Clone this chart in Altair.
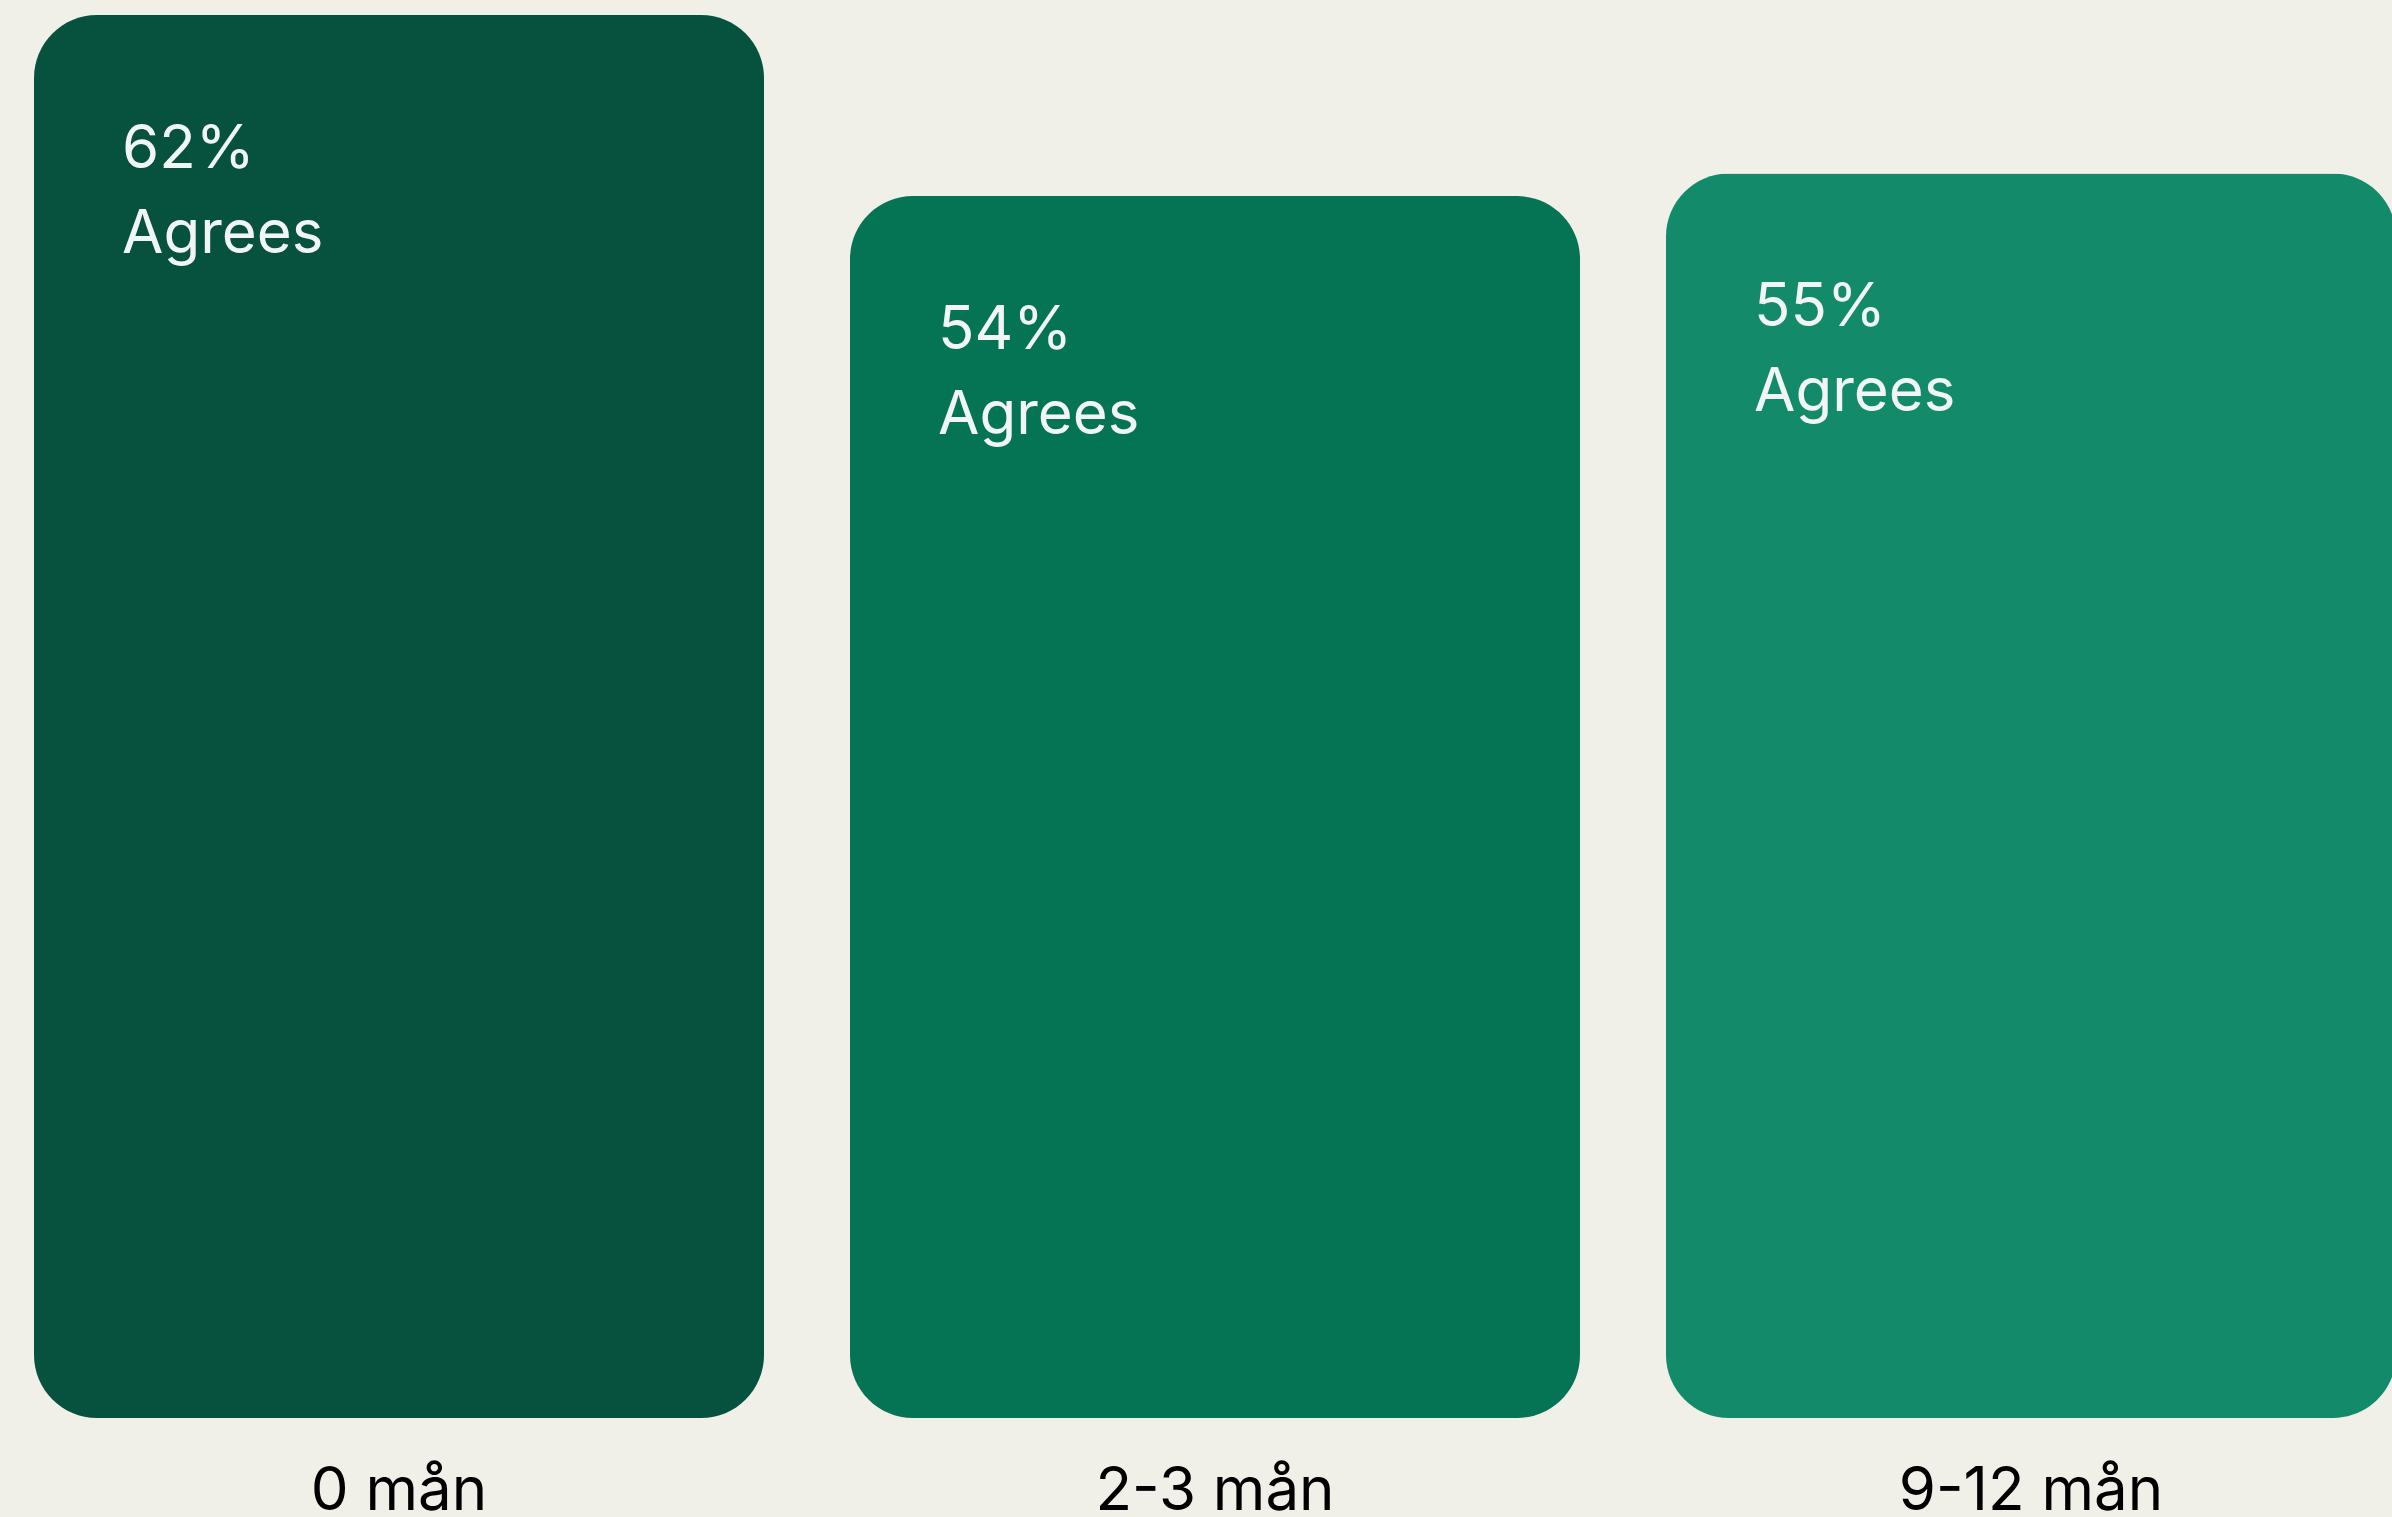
import altair as alt
import pandas as pd

categories = ["0 mån", "2-3 mån", "9-12 mån"]
values = [62, 54, 55]
pct_labels = ["62%", "54%", "55%"]
sub_labels = ["Agrees", "Agrees", "Agrees"]
colors = ["#07523F", "#047454", "#138B6A"]

df = pd.DataFrame({
    "cat": categories,
    "value": values,
    "pct": pct_labels,
    "sub": sub_labels,
    "color": colors,
})

FONT = "Inter"
x_scale = alt.Scale(domain=categories, range=[34, 2396], paddingInner=0.10539, paddingOuter=0)
y_scale = alt.Scale(domain=[0, 62 * 1418 / 1403], nice=False, zero=True)

x_axis = alt.Axis(title=None, domain=False, ticks=False, grid=False,
                  labelAngle=0, labelFont=FONT, labelFontSize=60,
                  labelColor="#000000", labelBaseline="alphabetic",
                  labelPadding=91, labelFontWeight="normal", labelLimit=0)

bars = alt.Chart(df).mark_bar(cornerRadius=63).encode(
    x=alt.X("cat:N", scale=x_scale, sort=categories, axis=x_axis),
    y=alt.Y("value:Q", scale=y_scale, axis=None),
    fill=alt.Fill("color:N", scale=None, legend=None),
)

pct = alt.Chart(df).mark_text(align="left", baseline="alphabetic", dx=88, dy=153,
                              font=FONT, fontSize=60, color="#F2F5F5").encode(
    x=alt.X("cat:N", scale=x_scale, sort=categories, bandPosition=0, axis=x_axis),
    y=alt.Y("value:Q", scale=y_scale, axis=None),
    text="pct:N",
)

sub = alt.Chart(df).mark_text(align="left", baseline="alphabetic", dx=88, dy=238,
                              font=FONT, fontSize=60, color="#F2F5F5").encode(
    x=alt.X("cat:N", scale=x_scale, sort=categories, bandPosition=0, axis=x_axis),
    y=alt.Y("value:Q", scale=y_scale, axis=None),
    text="sub:N",
)

chart = alt.layer(bars, pct, sub).properties(
    width=2392, height=1418,
    autosize=alt.AutoSizeParams(type="none"),
    padding={"left": 0, "top": 0, "right": 0, "bottom": 99},
    background="#F0EFE8",
).configure_view(stroke=None)

chart.save("out.html", embed_options={"renderer": "svg", "actions": False})
